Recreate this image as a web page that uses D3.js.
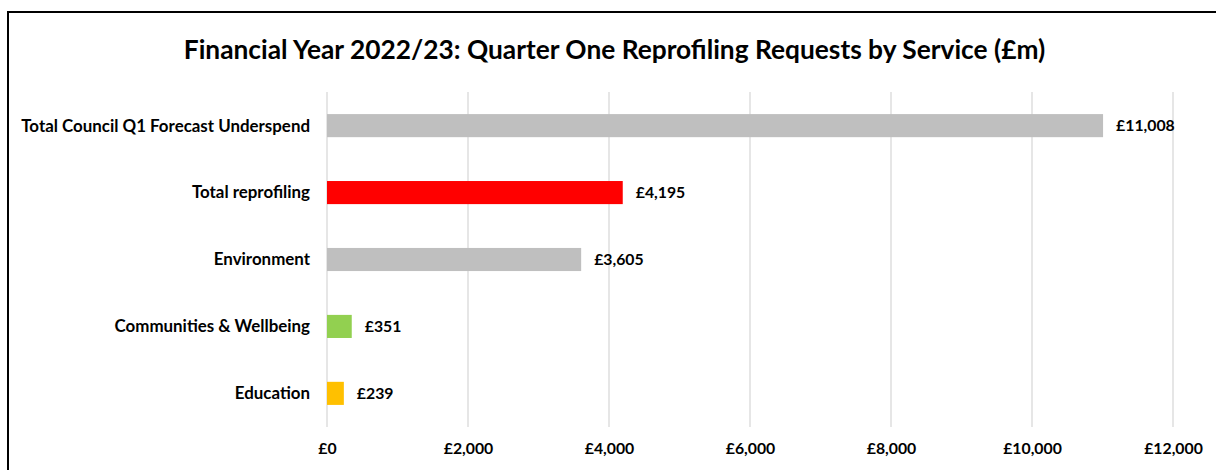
<!DOCTYPE html>
<html><head><meta charset="utf-8">
<script src="https://cdn.jsdelivr.net/npm/d3@7"></script>
<style>body{margin:0;background:#fff;} text{font-family:Lato, "Noto Sans", sans-serif;font-weight:bold;fill:#000;}</style>
</head><body>
<svg id="c" width="1216" height="470"></svg>
<script>
const categories = ["Total Council Q1 Forecast Underspend","Total reprofiling","Environment","Communities & Wellbeing","Education"];
const values = [11008, 4195, 3605, 351, 239];
const colors = ["#bfbfbf","#ff0000","#bfbfbf","#92d050","#ffc000"];
const tickValues = [0,2000,4000,6000,8000,10000,12000];
const title = "Financial Year 2022/23: Quarter One Reprofiling Requests by Service (£m)";

const svg = d3.select("#c");
svg.append("rect").attr("x",8).attr("y",12).attr("width",1240).attr("height",480)
  .attr("fill","#fff").attr("stroke","#000").attr("stroke-width",2);

const x = d3.scaleLinear().domain([0,12000]).range([327,1173]);
const y = d3.scaleBand().domain(categories).range([92,427]).paddingInner(0.655).paddingOuter(0.33);

svg.append("text").attr("x",614.5).attr("y",59).attr("text-anchor","middle")
  .style("font-size","26.3px").text(title);

const fmt = d => "£" + d3.format(",")(d);
svg.append("g").selectAll("line").data(tickValues).join("line")
  .attr("x1",d=>x(d)).attr("x2",d=>x(d)).attr("y1",92).attr("y2",427)
  .attr("stroke","#d9d9d9").attr("stroke-width",1.3);

const xAxis = d3.axisBottom(x).tickValues(tickValues).tickFormat(fmt).tickSize(0).tickPadding(0);
const ga = svg.append("g").attr("transform","translate(0,443)").call(xAxis);
ga.select(".domain").remove();
ga.selectAll("text").style("font-size","15.8px").attr("dy","0.7em");

svg.append("g").selectAll("rect").data(values).join("rect")
  .attr("x",x(0)).attr("y",(d,i)=>y(categories[i]))
  .attr("width",d=>x(d)-x(0)).attr("height",y.bandwidth())
  .attr("fill",(d,i)=>colors[i]);

svg.append("g").selectAll("text").data(values).join("text")
  .attr("x",d=>x(d)+13).attr("y",(d,i)=>y(categories[i])+y.bandwidth()/2)
  .attr("dy","0.35em").style("font-size","15.8px").text(fmt);

svg.append("g").selectAll("text").data(categories).join("text")
  .attr("x",310).attr("y",d=>y(d)+y.bandwidth()/2).attr("dy","0.35em")
  .attr("text-anchor","end").style("font-size","16.9px").text(d=>d);
</script>
</body></html>
